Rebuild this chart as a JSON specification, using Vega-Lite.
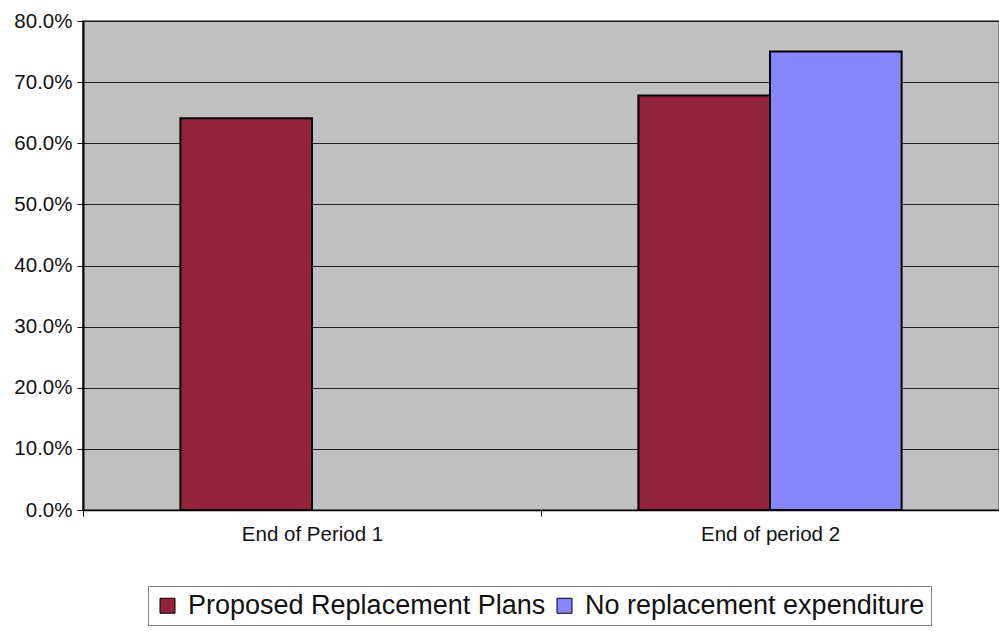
{
  "$schema": "https://vega.github.io/schema/vega-lite/v6.json",
  "autosize": {"type": "none"},
  "padding": {"left": 83, "top": 21, "right": 0, "bottom": 124},
  "width": 916,
  "height": 489,
  "background": "white",
  "config": {
    "font": "Liberation Sans",
    "view": {"fill": "#C0C0C0", "stroke": "#808080", "strokeWidth": 2}
  },
  "data": {
    "values": [
      {"period": "End of Period 1", "series": "Proposed Replacement Plans", "value": 0.641},
      {"period": "End of period 2", "series": "Proposed Replacement Plans", "value": 0.678},
      {"period": "End of period 2", "series": "No replacement expenditure", "value": 0.750}
    ]
  },
  "mark": {"type": "bar", "stroke": "black", "strokeWidth": 2},
  "encoding": {
    "x": {
      "field": "period",
      "type": "nominal",
      "sort": null,
      "scale": {"paddingInner": 0, "paddingOuter": 0},
      "axis": {
        "title": null,
        "labelAngle": 0,
        "labelFontSize": 20.5,
        "labelColor": "#111",
        "labelPadding": 8,
        "tickBand": "extent",
        "tickSize": 6,
        "tickColor": "black",
        "domainColor": "black",
        "domainWidth": 1.5,
        "grid": false
      }
    },
    "xOffset": {
      "field": "series",
      "type": "nominal",
      "scale": {
        "domain": ["Proposed Replacement Plans", "No replacement expenditure"],
        "paddingInner": 0,
        "paddingOuter": 0.74
      }
    },
    "y": {
      "field": "value",
      "type": "quantitative",
      "scale": {"domain": [0, 0.8], "nice": false},
      "axis": {
        "title": null,
        "format": ".1%",
        "values": [0, 0.1, 0.2, 0.3, 0.4, 0.5, 0.6, 0.7, 0.8],
        "labelFontSize": 20.5,
        "labelColor": "#111",
        "labelPadding": 5,
        "tickSize": 6,
        "tickColor": "black",
        "domainColor": "black",
        "domainWidth": 2,
        "gridColor": "#222",
        "gridWidth": 1,
        "gridOpacity": 1
      }
    },
    "color": {
      "field": "series",
      "type": "nominal",
      "scale": {
        "domain": ["Proposed Replacement Plans", "No replacement expenditure"],
        "range": ["#93223A", "#8886FD"]
      },
      "legend": {
        "title": null,
        "orient": "none",
        "legendX": 65,
        "legendY": 565,
        "direction": "horizontal",
        "symbolType": "square",
        "symbolSize": 225,
        "symbolStrokeColor": "black",
        "symbolStrokeWidth": 1,
        "symbolOpacity": 1,
        "labelFontSize": 27,
        "labelColor": "#111",
        "labelOffset": 7,
        "labelLimit": 0,
        "columnPadding": 5,
        "padding": 6,
        "fillColor": "white",
        "strokeColor": "#808080"
      }
    }
  }
}
